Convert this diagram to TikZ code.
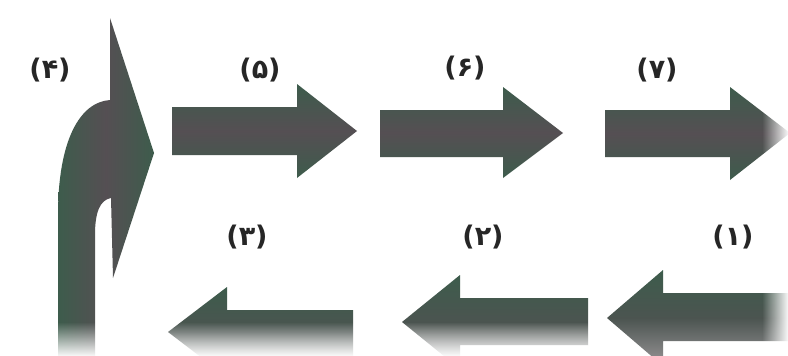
\documentclass[tikz,border=0pt]{standalone}
\usepackage{fontspec}
\setmainfont{DejaVu Sans}
\newfontfamily\arabicfont[Script=Arabic]{DejaVu Sans}
\usetikzlibrary{fadings}
\definecolor{ag}{HTML}{3D5C4C}
\definecolor{agp}{HTML}{554F53}
\tikzset{
  rarrow/.style={top color=ag, bottom color=ag, middle color=agp, draw=none},
  larrow/.style={top color=ag, bottom color=agp!60!white, middle color=agp!60!ag, draw=none},
  lbl/.style={font=\fontsize{27}{30}\selectfont\bfseries, text=black!85, inner sep=0pt}
}
\newcommand{\pd}[1]{({\arabicfont #1})}
\begin{document}
\begin{tikzpicture}[x=1pt,y=-1pt]
\useasboundingbox (0,0) rectangle (788,356);
\fill[white] (0,0) rectangle (788,356);
% top row: right arrows
\shade[rarrow] (172,107) -- (297,107) -- (297,84) -- (357,131) -- (297,178) -- (297,155) -- (172,155) -- cycle;
\shade[rarrow] (380,110) -- (503,110) -- (503,87) -- (563,133) -- (503,178) -- (503,157) -- (380,157) -- cycle;
\shade[rarrow] (605,110) -- (730,110) -- (730,87) -- (790,133) -- (730,180) -- (730,157) -- (605,157) -- cycle;
% bottom row: left arrows
\shade[larrow] (788,293) -- (663,293) -- (663,270) -- (607,318) -- (663,366) -- (663,341) -- (788,341) -- cycle;
\shade[larrow] (588,298) -- (460,298) -- (460,275) -- (402,322) -- (460,369) -- (460,345) -- (588,345) -- cycle;
\shade[larrow] (353,310) -- (227,310) -- (227,287) -- (168,332) -- (227,377) -- (227,356) -- (353,356) -- cycle;
% bent arrow (4)
\shade[left color=ag, right color=ag, middle color=agp, draw=none]
  (58,356) -- (58,215) .. controls (58,140) and (80,102) .. (110,100)
  -- (110,18) -- (154,153) -- (113,278) -- (111,198)
  .. controls (100,200) and (95,212) .. (95,235) -- (95,356) -- cycle;
% fades
\fill[white, path fading=north] (0,322) rectangle (600,357);
\fill[white, path fading=west] (762,60) rectangle (789,357);
% labels
\node[lbl] (l4) at (50,70) {\pd{۴}};
\node[lbl] (l5) at (260,70) {\pd{۵}};
\node[lbl] (l6) at (465,68) {\pd{۶}};
\node[lbl] (l7) at (657,70) {\pd{۷}};
\node[lbl] (l3) at (247,237) {\pd{۳}};
\node[lbl] (l2) at (483,237) {\pd{۲}};
\node[lbl] (l1) at (733,237) {\pd{۱}};
\end{tikzpicture}
\end{document}
